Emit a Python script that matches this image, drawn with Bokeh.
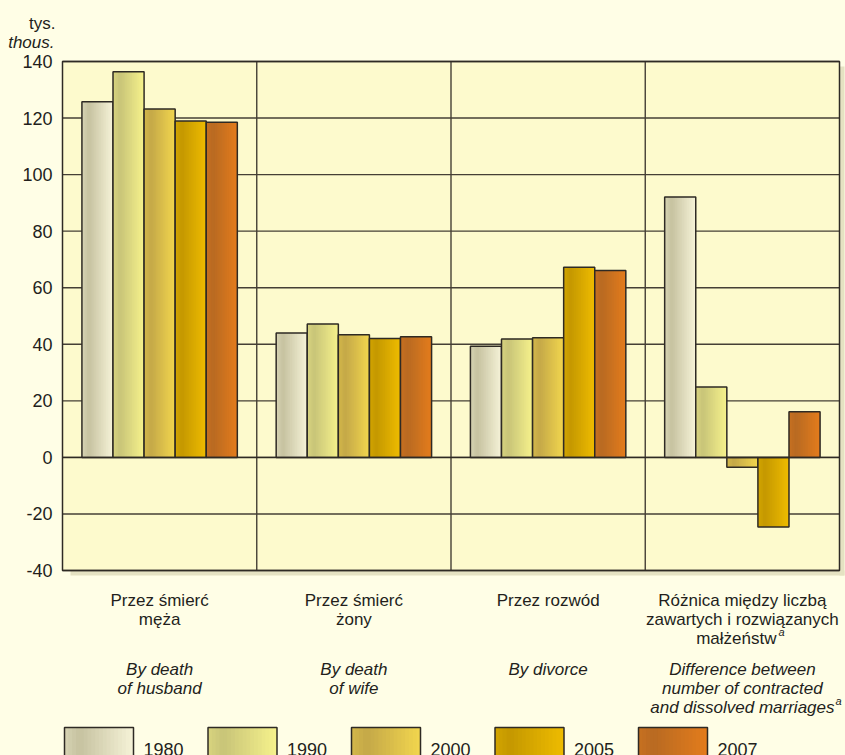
from bokeh.plotting import figure
from bokeh.models import Range1d
from bokeh.embed import file_html
from bokeh.resources import INLINE
from bokeh.core.properties import value

# ---- data ----
years = ["1980", "1990", "2000", "2005", "2007"]
cat_pl = [["Przez śmierć", "męża"],
          ["Przez śmierć", "żony"],
          ["Przez rozwód"],
          ["Różnica między liczbą", "zawartych i rozwiązanych", "małżeństw"]]
cat_en = [["By death", "of husband"],
          ["By death", "of wife"],
          ["By divorce"],
          ["Difference between", "number of contracted", "and dissolved marriages"]]
v1980 = [125.8, 44.0, 39.3, 92.1]
v1990 = [136.4, 47.2, 41.9, 24.9]
v2000 = [123.2, 43.4, 42.3, -3.5]
v2005 = [119.0, 42.0, 67.2, -24.6]
v2007 = [118.5, 42.7, 66.1, 16.1]
series = [v1980, v1990, v2000, v2005, v2007]
y_ticks = [-40, -20, 0, 20, 40, 60, 80, 100, 120, 140]
y_tick_labels = [str(t) for t in y_ticks]
unit_pl, unit_en = "tys.", "thous."
Y0, Y1 = -40, 140
NCAT = 4

# ---- style ----
FONT = "Liberation Sans"
TXT = "#231f1c"
PAGE = "#fffee6"
FRAME = "#fdfacd"
SHADOW = "#e5e2c2"
DARK = "#2e2a24"
GRID = "#453f35"
grad = [((198, 194, 160), (246, 243, 216)),
        ((200, 196, 120), (246, 242, 140)),
        ((196, 168, 72), (242, 214, 78)),
        ((196, 152, 0), (238, 188, 0)),
        ((184, 106, 34), (228, 124, 28))]
NS = 18
BW = 0.16

W, H = 845, 755
# page-pixel geometry of the plotting area
PL, PR, PT, PB = 62, 839, 61, 570
UX = NCAT / (PR - PL)        # data units per px (x)
UY = (Y1 - Y0) / (PB - PT)   # data units per px (y)


def xd(px):
    return (px - PL) * UX


def yd(py):
    return Y1 - (py - PT) * UY


def shade(dark, light, t):
    if t < 0.22:
        f = 0.35 * (1 - t / 0.22)
    else:
        f = (t - 0.22) / 0.78
    c = tuple(int(round(d + (l - d) * f)) for d, l in zip(dark, light))
    return "#%02x%02x%02x" % c


p = figure(width=W, height=H, title=None,
           x_range=Range1d(xd(0), xd(W)), y_range=Range1d(yd(H), yd(0)),
           output_backend="svg", toolbar_location=None, min_border=0)
p.background_fill_color = PAGE
p.border_fill_color = PAGE
p.outline_line_color = None
p.grid.visible = False
p.axis.visible = False

# shadow and plotting-area background
p.quad(left=[xd(PR)], right=[xd(PR + 5)], top=[yd(PT + 5)], bottom=[yd(PB + 5)],
       fill_color=SHADOW, line_color=None)
p.quad(left=[xd(PL + 8)], right=[xd(PR + 5)], top=[Y0], bottom=[yd(PB + 5)],
       fill_color=SHADOW, line_color=None)
p.quad(left=[0], right=[NCAT], top=[Y1], bottom=[Y0], fill_color=FRAME, line_color=None)

# grid lines and category separators
p.segment(x0=[0] * len(y_ticks), x1=[NCAT] * len(y_ticks), y0=y_ticks, y1=y_ticks,
          line_color=GRID, line_width=1.4)
seps = list(range(1, NCAT))
p.segment(x0=seps, x1=seps, y0=[Y0] * len(seps), y1=[Y1] * len(seps), line_color=GRID, line_width=1.4)

# y tick labels and unit
p.text(x=[xd(52)] * len(y_ticks), y=y_ticks, text=y_tick_labels, text_align="right",
       text_baseline="middle", text_font=value(FONT), text_font_size="18px", text_color=TXT)
p.text(x=[xd(55)], y=[yd(23.3)], text=[unit_pl], text_align="right", text_baseline="alphabetic",
       text_font=value(FONT), text_font_size="17px", text_color=TXT)
p.text(x=[xd(54)], y=[yd(41.7)], text=[unit_en], text_align="right", text_baseline="alphabetic",
       text_font=value(FONT), text_font_size="17px", text_font_style="italic", text_color=TXT)

# bars with gradient slices
ov = 1.0 * UX
for k, vals in enumerate(series):
    dark, light = grad[k]
    xs = [i + 0.5 + (k - 2) * BW for i in range(len(vals))]
    for s in range(NS):
        t = (s + 0.5) / NS
        lefts = [x - BW / 2 + s * BW / NS for x in xs]
        rights = [x - BW / 2 + (s + 1) * BW / NS + (ov if s < NS - 1 else 0) for x in xs]
        p.quad(left=lefts, right=rights, top=[max(v, 0) for v in vals], bottom=[min(v, 0) for v in vals],
               fill_color=shade(dark, light, t), line_color=None)
    p.vbar(x=xs, width=BW, top=vals, bottom=0, fill_color=None, line_color=DARK, line_width=1.5)

# zero line and outline
p.segment(x0=[0], x1=[NCAT], y0=[0], y1=[0], line_color=DARK, line_width=1.5)
p.quad(left=[0], right=[NCAT], top=[Y1], bottom=[Y0], fill_color=None, line_color=DARK, line_width=1.5)

# category labels
pl_base = [600, 619, 638]
en_base = [669, 688, 707]
for i in range(NCAT):
    n = len(cat_pl[i])
    xs = [i + 0.5] * n
    aligns = ["center"] * n
    if i == NCAT - 1:
        xs[-1] = xd(776)
        aligns[-1] = "right"
    p.text(x=xs, y=[yd(b) for b in pl_base[:n]], text=cat_pl[i], text_align=aligns,
           text_baseline="alphabetic", text_font=value(FONT), text_font_size="17px", text_color=TXT)
    n = len(cat_en[i])
    p.text(x=[i + 0.5] * n, y=[yd(b) for b in en_base[:n]], text=cat_en[i], text_align="center",
           text_baseline="alphabetic", text_font=value(FONT), text_font_size="17px",
           text_font_style="italic", text_color=TXT)
# superscripts "a"
p.text(x=[xd(778), xd(835)], y=[yd(pl_base[2] - 7), yd(en_base[2] - 7)], text=["a", "a"],
       text_align="left", text_baseline="alphabetic", text_font=value(FONT), text_font_size="11px",
       text_font_style="italic", text_color=TXT)

# legend
sw_left = [64 + 143.5 * k for k in range(len(years))]
SWW = 69
for s in range(NS):
    t = (s + 0.5) / NS
    p.quad(left=[xd(x + s * SWW / NS) for x in sw_left],
           right=[xd(x + (s + 1) * SWW / NS + (1 if s < NS - 1 else 0)) for x in sw_left],
           top=[yd(727)] * 5, bottom=[yd(765)] * 5,
           fill_color=[shade(grad[k][0], grad[k][1], t) for k in range(5)], line_color=None)
p.quad(left=[xd(x) for x in sw_left], right=[xd(x + SWW) for x in sw_left],
       top=[yd(727)] * 5, bottom=[yd(765)] * 5, fill_color=None, line_color=DARK, line_width=1.5)
p.text(x=[xd(x + SWW + 10) for x in sw_left], y=[yd(749)] * 5, text=years, text_align="left",
       text_baseline="alphabetic", text_font=value(FONT), text_font_size="18px", text_color=TXT)

html = file_html(p, INLINE)
html = html.replace("</head>", "<style>html,body{margin:0!important;padding:0!important;background:%s;overflow:hidden}</style></head>" % PAGE, 1)
open("out.html", "w").write(html)
